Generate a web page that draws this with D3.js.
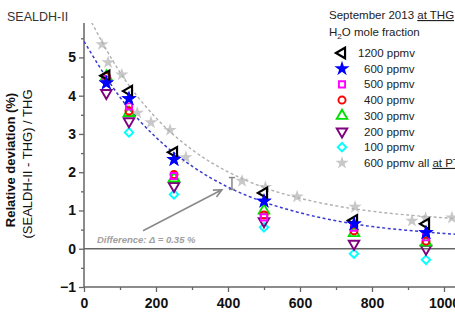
<!DOCTYPE html>
<html>
<head>
<meta charset="utf-8">
<script src="https://cdn.jsdelivr.net/npm/d3@7"></script>
<style>
  body { margin: 0; background: #fff; }
  svg { display: block; font-family: "Liberation Sans", Arial, sans-serif; }
</style>
</head>
<body>
<svg id="chart" width="455" height="322"></svg>
<script>
// H2O levels (ppmv) measured at THG
const seriesNames = ['1200 ppmv', '600 ppmv', '500 ppmv', '400 ppmv', '300 ppmv', '200 ppmv', '100 ppmv']
const seriesColors = ['#000000', '#0000ff', '#ff00ff', '#ff0000', '#00e000', '#800080', '#00ffff']
const seriesShapes = ['triLeft', 'star', 'square', 'circle', 'triUp', 'triDown', 'diamond']

// pressure steps (hPa) on the x axis
const pressures = [62, 125, 250, 500, 750, 950]

// relative deviation (%) per series, same order as pressures (null = not shown)
const dev1200 = [4.52, 4.12, 2.52, 1.46, 0.74, 0.65]
const dev600 = [4.33, 3.92, 2.33, 1.24, 0.65, 0.42]
const dev500 = [4.42, 3.72, 1.9, 0.82, 0.55, 0.3]
const dev400 = [4.5, 3.6, 1.94, 0.88, 0.47, 0.2]
const dev300 = [4.5, 3.55, 1.84, 1.0, 0.41, 0.16]
const dev200 = [4.07, 3.33, 1.64, 0.72, 0.13, 0.0]
const dev100 = [null, 3.04, 1.42, 0.56, -0.13, -0.29]
const devAll = [dev1200, dev600, dev500, dev400, dev300, dev200, dev100]

// 600 ppmv, all at PTB
const ptbX = [50, 67, 105, 148, 186, 239, 283, 439, 504, 592, 753, 911, 949, 1022]
const ptbY = [5.34, 4.87, 4.55, 3.55, 3.3, 3.1, 2.39, 1.77, 1.61, 1.36, 1.09, 0.73, 0.8, 0.81]

// fit curves
const fitX = [0, 100, 200, 300, 400, 500, 600, 700, 800, 900, 1000, 1100]
const fitBlue = [5.42, 3.96, 2.91, 2.16, 1.61, 1.22, 0.94, 0.73, 0.58, 0.48, 0.4, 0.34]
const fitGray = [6.3, 4.61, 3.42, 2.59, 2.01, 1.6, 1.32, 1.12, 0.98, 0.88, 0.81, 0.76]

// difference marker
const diffX = 411
const diffLow = 1.55
const diffHigh = 1.86
const arrowFrom = [164, 0.47]
const arrowTo = [383, 1.54]

const xTicks = [0, 200, 400, 600, 800, 1000]
const yTicks = [-1, 0, 1, 2, 3, 4, 5]

const svg = d3.select('#chart')

const x = d3.scaleLinear().domain([0, 1100]).range([84, 480])
const y = d3.scaleLinear().domain([-1, 5.9]).range([287, 23])

svg.append('defs').append('clipPath').attr('id', 'plot-clip')
    .append('rect')
    .attr('x', x(0)).attr('y', y(5.9))
    .attr('width', x(1100) - x(0)).attr('height', y(-1) - y(5.9))

function symbolPath(shape) {
    if (shape == 'star') return d3.symbol(d3.symbolStar, 72)()
    if (shape == 'square') return d3.symbol(d3.symbolSquare, 38)()
    if (shape == 'circle') return d3.symbol(d3.symbolCircle, 40)()
    if (shape == 'diamond') return d3.symbol(d3.symbolSquare, 36)()
    return d3.symbol(d3.symbolTriangle, 48)()
}

function symbolRotate(shape) {
    if (shape == 'triLeft') return -90
    if (shape == 'triDown') return 180
    if (shape == 'diamond') return 45
    return 0
}

function drawMarker(g, shape, color, px, py) {
    const filled = shape == 'star'
    g.append('path')
        .attr('d', symbolPath(shape))
        .attr('transform', 'translate(' + px + ',' + py + ') rotate(' + symbolRotate(shape) + ')')
        .attr('fill', filled ? color : 'none')
        .attr('stroke', filled ? 'none' : color)
        .attr('stroke-width', shape == 'triLeft' ? 2.2 : 1.9)
}

// axes
const xAxis = svg.append('g')
    .attr('transform', 'translate(0,' + y(-1) + ')')
    .call(d3.axisBottom(x).tickValues(xTicks).tickSize(5).tickFormat(d3.format('d')))
const xMinor = svg.append('g')
    .attr('transform', 'translate(0,' + y(-1) + ')')
    .call(d3.axisBottom(x).tickValues([100, 300, 500, 700, 900]).tickSize(3).tickFormat(''))
const yAxis = svg.append('g')
    .attr('transform', 'translate(' + x(0) + ',0)')
    .call(d3.axisLeft(y).tickValues(yTicks).tickSize(5).tickFormat(d3.format('d')))
const yMinor = svg.append('g')
    .attr('transform', 'translate(' + x(0) + ',0)')
    .call(d3.axisLeft(y).tickValues([-0.5, 0.5, 1.5, 2.5, 3.5, 4.5, 5.5]).tickSize(3).tickFormat(''))

svg.selectAll('.domain').attr('stroke', '#666').attr('stroke-width', 1.5)
svg.selectAll('.tick line').attr('stroke', '#666').attr('stroke-width', 1.3)
xMinor.select('.domain').remove()
yMinor.select('.domain').remove()
xAxis.select('.domain').attr('d', 'M' + x(0) + ',0H' + x(1100))
yAxis.select('.domain').attr('d', 'M0,' + y(-1) + 'V' + y(5.9))
xAxis.selectAll('.tick text')
    .attr('font-size', 14).attr('font-weight', 'bold').attr('fill', '#111')
    .attr('font-family', '"Liberation Sans", Arial, sans-serif').attr('dy', '0.95em')
yAxis.selectAll('.tick text')
    .attr('font-size', 14).attr('font-weight', 'bold').attr('fill', '#111')
    .attr('font-family', '"Liberation Sans", Arial, sans-serif').attr('x', -8)

// zero line
svg.append('line')
    .attr('x1', x(0)).attr('x2', x(1100))
    .attr('y1', y(0)).attr('y2', y(0))
    .attr('stroke', '#666').attr('stroke-width', 1.3)

const plot = svg.append('g').attr('clip-path', 'url(#plot-clip)')

// PTB stars
ptbX.forEach((px, i) => {
    plot.append('path')
        .attr('d', d3.symbol(d3.symbolStar, 55)())
        .attr('transform', 'translate(' + x(px) + ',' + y(ptbY[i]) + ')')
        .attr('fill', '#c8c8c8')
})

// fit curves
const fitLine = d3.line().x(d => x(d[0])).y(d => y(d[1])).curve(d3.curveMonotoneX)
plot.append('path')
    .attr('d', fitLine(fitX.map((v, i) => [v, fitGray[i]])))
    .attr('fill', 'none').attr('stroke', '#b0b0b0')
    .attr('stroke-width', 1.4).attr('stroke-dasharray', '3,2.5')
plot.append('path')
    .attr('d', fitLine(fitX.map((v, i) => [v, fitBlue[i]])))
    .attr('fill', 'none').attr('stroke', '#3a3ad0')
    .attr('stroke-width', 1.5).attr('stroke-dasharray', '3,2.5')

// measurement series, drawn from 100 ppmv upward so 1200 ppmv sits on top
for (let s = seriesNames.length - 1; s >= 0; s--) {
    devAll[s].forEach((v, i) => {
        if (v == null) return
        drawMarker(plot, seriesShapes[s], seriesColors[s], x(pressures[i]), y(v))
    })
}
// keep the blue stars visible above the open markers
dev600.forEach((v, i) => drawMarker(plot, 'star', '#0000ff', x(pressures[i]), y(v)))

// difference bar and arrow
const bar = svg.append('g').attr('stroke', '#888').attr('stroke-width', 1.5)
bar.append('line').attr('x1', x(diffX)).attr('x2', x(diffX)).attr('y1', y(diffLow)).attr('y2', y(diffHigh))
bar.append('line').attr('x1', x(diffX) - 3).attr('x2', x(diffX) + 3).attr('y1', y(diffLow)).attr('y2', y(diffLow))
bar.append('line').attr('x1', x(diffX) - 3).attr('x2', x(diffX) + 3).attr('y1', y(diffHigh)).attr('y2', y(diffHigh))

const ax0 = x(arrowFrom[0]), ay0 = y(arrowFrom[1])
const ax1 = x(arrowTo[0]), ay1 = y(arrowTo[1])
const ang = Math.atan2(ay1 - ay0, ax1 - ax0)
const head = 9
svg.append('path')
    .attr('d', 'M' + ax0 + ',' + ay0 + 'L' + ax1 + ',' + ay1 +
        'M' + (ax1 - head * Math.cos(ang - 0.45)) + ',' + (ay1 - head * Math.sin(ang - 0.45)) +
        'L' + ax1 + ',' + ay1 +
        'L' + (ax1 - head * Math.cos(ang + 0.45)) + ',' + (ay1 - head * Math.sin(ang + 0.45)))
    .attr('fill', 'none').attr('stroke', '#8a8a8a').attr('stroke-width', 1.6)

svg.append('text')
    .attr('x', 97).attr('y', 243)
    .attr('font-size', 9.5).attr('font-weight', 'bold').attr('font-style', 'italic')
    .attr('fill', '#a0a0a0')
    .text('Difference: Δ = 0.35 %')

// title
svg.append('text')
    .attr('x', 7).attr('y', 21)
    .attr('font-size', 12.5).attr('fill', '#333')
    .text('SEALDH-II')

// y axis title
const yTitle = svg.append('g').attr('transform', 'translate(0,160) rotate(-90)')
yTitle.append('text')
    .attr('x', 0).attr('y', 15).attr('text-anchor', 'middle')
    .attr('font-size', 13).attr('font-weight', 'bold').attr('fill', '#111')
    .text('Relative deviation (%)')
yTitle.append('text')
    .attr('x', -4).attr('y', 32).attr('text-anchor', 'middle')
    .attr('font-size', 13).attr('fill', '#111')
    .text('(SEALDH-II - THG) / THG')

// legend
const legend = svg.append('g').attr('font-size', 11.5).attr('fill', '#222')
const head1 = legend.append('text').attr('x', 329).attr('y', 19)
head1.append('tspan').text('September 2013 ')
head1.append('tspan').attr('text-decoration', 'underline').text('at THG')
const head2 = legend.append('text').attr('x', 329).attr('y', 36)
head2.append('tspan').text('H')
head2.append('tspan').attr('font-size', 8).attr('dy', 3).text('2')
head2.append('tspan').attr('dy', -3).text('O mole fraction')

const rowY0 = 53
const rowStep = 15.7
seriesNames.forEach((name, i) => {
    const ry = rowY0 + i * rowStep
    drawMarker(legend, seriesShapes[i], seriesColors[i], 342, ry)
    legend.append('text')
        .attr('x', i == 0 ? 358 : 364).attr('y', ry + 4)
        .text(name)
})
const lastY = rowY0 + seriesNames.length * rowStep
legend.append('path')
    .attr('d', d3.symbol(d3.symbolStar, 55)())
    .attr('transform', 'translate(342,' + lastY + ')')
    .attr('fill', '#c8c8c8')
const lastText = legend.append('text').attr('x', 364).attr('y', lastY + 4)
lastText.append('tspan').text('600 ppmv all ')
lastText.append('tspan').attr('text-decoration', 'underline').text('at PTB')
</script>
</body>
</html>
